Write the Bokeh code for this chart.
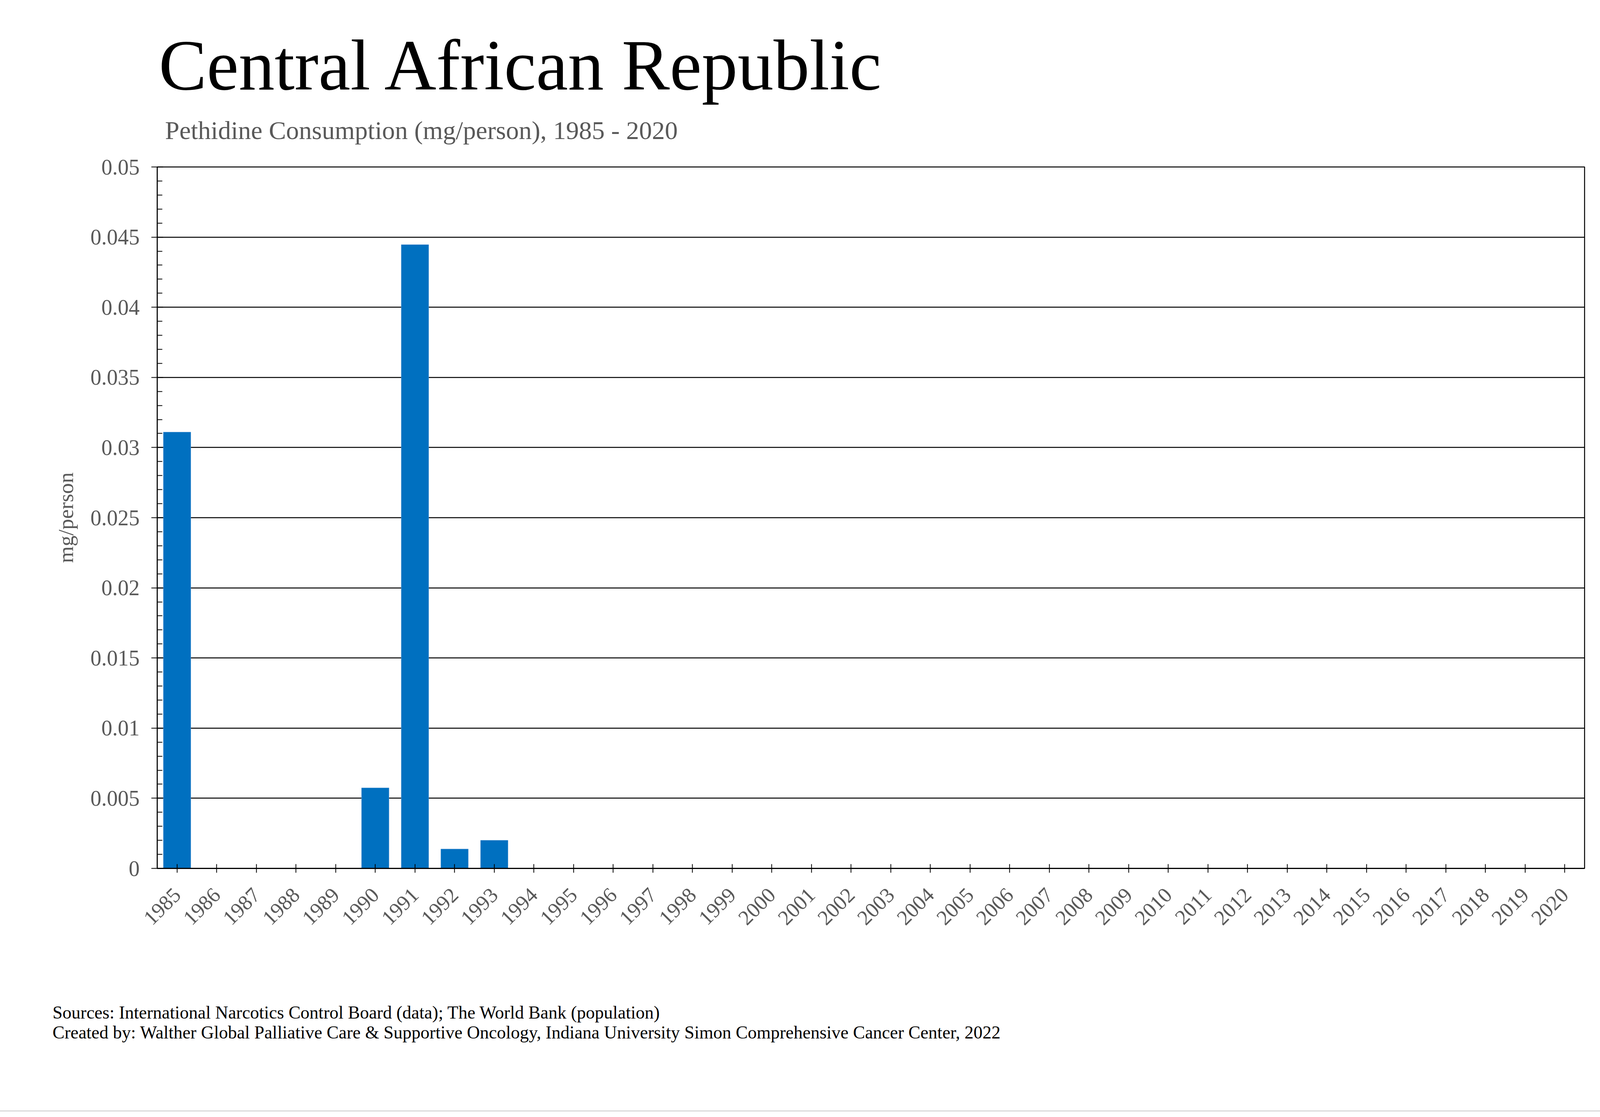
import math
from bokeh.plotting import figure
from bokeh.layouts import column
from bokeh.models import FactorRange, Range1d, FixedTicker, Label, ColumnDataSource
from bokeh.embed import file_html
from bokeh.resources import INLINE

years = ["1985", "1986", "1987", "1988", "1989", "1990", "1991", "1992", "1993",
         "1994", "1995", "1996", "1997", "1998", "1999", "2000", "2001", "2002",
         "2003", "2004", "2005", "2006", "2007", "2008", "2009", "2010", "2011",
         "2012", "2013", "2014", "2015", "2016", "2017", "2018", "2019", "2020"]
consumption = [0.0311, 0, 0, 0, 0, 0.00574, 0.04446, 0.00138, 0.0020,
               0, 0, 0, 0, 0, 0, 0, 0, 0,
               0, 0, 0, 0, 0, 0, 0, 0, 0,
               0, 0, 0, 0, 0, 0, 0, 0, 0]
y_tick_labels = ["0", "0.005", "0.01", "0.015", "0.02", "0.025", "0.03",
                 "0.035", "0.04", "0.045", "0.05"]
y_minor = [0.001, 0.002, 0.003, 0.004, 0.006, 0.007, 0.008, 0.009,
           0.011, 0.012, 0.013, 0.014, 0.016, 0.017, 0.018, 0.019,
           0.021, 0.022, 0.023, 0.024, 0.026, 0.027, 0.028, 0.029,
           0.031, 0.032, 0.033, 0.034, 0.036, 0.037, 0.038, 0.039,
           0.041, 0.042, 0.043, 0.044, 0.046, 0.047, 0.048, 0.049]

title_text = "Central African Republic"
subtitle_text = "Pethidine Consumption (mg/person), 1985 - 2020"
y_label_text = "mg/person"
source_line1 = "Sources: International Narcotics Control Board (data); The World Bank (population)"
source_line2 = ("Created by: Walther Global Palliative Care & Supportive Oncology, "
                "Indiana University Simon Comprehensive Cancer Center, 2022")

SERIF = "Liberation Serif"
GRAY = "#595959"
BAR = "#0070C0"

W = 4200
TOP_H = 387
MAIN_H = 2036
BOT_H = 415
CENTER_SHIFT = 0.3375  # label y is the text box centre; baseline sits this far (em) below


def text_panel(height, y0):
    f = figure(width=W, height=height, output_backend="svg", toolbar_location=None,
               x_range=Range1d(0, W), y_range=Range1d(y0 + height, y0),
               x_axis_location=None, y_axis_location=None,
               min_border=0, min_border_left=0, min_border_right=0,
               min_border_top=0, min_border_bottom=0, frame_align=False)
    f.grid.visible = False
    f.outline_line_color = None
    f.background_fill_color = "white"
    f.border_fill_color = "white"
    return f


def add_label(f, text, x, baseline_y, size_px, color):
    f.add_layout(Label(x=x, y=baseline_y - CENTER_SHIFT * size_px, text=text,
                       text_font=SERIF, text_font_size=f"{size_px}px",
                       text_color=color, text_align="left",
                       text_baseline="middle"))


# ---- title area ----
top = text_panel(TOP_H, 0)
add_label(top, title_text, 406, 229, 184, "black")
add_label(top, subtitle_text, 422, 355, 66, GRAY)

# ---- chart ----
p = figure(width=W, height=MAIN_H, output_backend="svg", toolbar_location=None,
           x_range=FactorRange(*years, range_padding=0),
           y_range=Range1d(0, 0.05),
           min_border_left=402, min_border_right=144,
           min_border_top=40, min_border_bottom=200, frame_align=False)
p.background_fill_color = "white"
p.border_fill_color = "white"
p.outline_line_color = "black"
p.outline_line_width = 2.5

src = ColumnDataSource(dict(year=years, val=consumption))
p.vbar(x="year", top="val", width=0.69, source=src, fill_color=BAR,
       line_color="#4a90d0", line_width=1)

p.xgrid.grid_line_color = None
p.ygrid.grid_line_color = "black"
p.ygrid.grid_line_width = 2.5

ticks = [float(s) for s in y_tick_labels]
p.yaxis.ticker = FixedTicker(ticks=ticks, minor_ticks=y_minor)
p.yaxis.major_label_overrides = {float(s): s for s in y_tick_labels}
p.yaxis.axis_line_color = "black"
p.yaxis.axis_line_width = 2
p.yaxis.major_tick_line_color = "black"
p.yaxis.major_tick_line_width = 2
p.yaxis.major_tick_out = 15
p.yaxis.major_tick_in = 15
p.yaxis.minor_tick_line_color = "black"
p.yaxis.minor_tick_line_width = 2
p.yaxis.minor_tick_out = 0
p.yaxis.minor_tick_in = 13
p.yaxis.major_label_text_font = SERIF
p.yaxis.major_label_text_font_size = "56px"
p.yaxis.major_label_text_color = GRAY
p.yaxis.major_label_standoff = 30
p.yaxis.axis_label = y_label_text
p.yaxis.axis_label_text_font = SERIF
p.yaxis.axis_label_text_font_style = "normal"
p.yaxis.axis_label_text_font_size = "55px"
p.yaxis.axis_label_text_color = GRAY
p.yaxis.axis_label_standoff = 30

p.xaxis.axis_line_color = "black"
p.xaxis.axis_line_width = 3
p.xaxis.major_tick_line_color = "black"
p.xaxis.major_tick_line_width = 2
p.xaxis.major_tick_out = 11
p.xaxis.major_tick_in = 11
p.xaxis.minor_tick_line_color = None
p.xaxis.major_label_orientation = math.pi / 4
p.xaxis.major_label_text_font = SERIF
p.xaxis.major_label_text_font_size = "54px"
p.xaxis.major_label_text_color = GRAY
p.xaxis.major_label_standoff = 48

# ---- footer ----
bot = text_panel(BOT_H, TOP_H + MAIN_H)
add_label(bot, source_line1, 134, 2608, 46, "black")
add_label(bot, source_line2, 134, 2659, 46, "black")

layout = column(top, p, bot, spacing=0)
layout.styles = {"outline": "3px solid #d9d9d9", "outline-offset": "5px"}

with open("out.html", "w") as f:
    f.write(file_html(layout, INLINE))
